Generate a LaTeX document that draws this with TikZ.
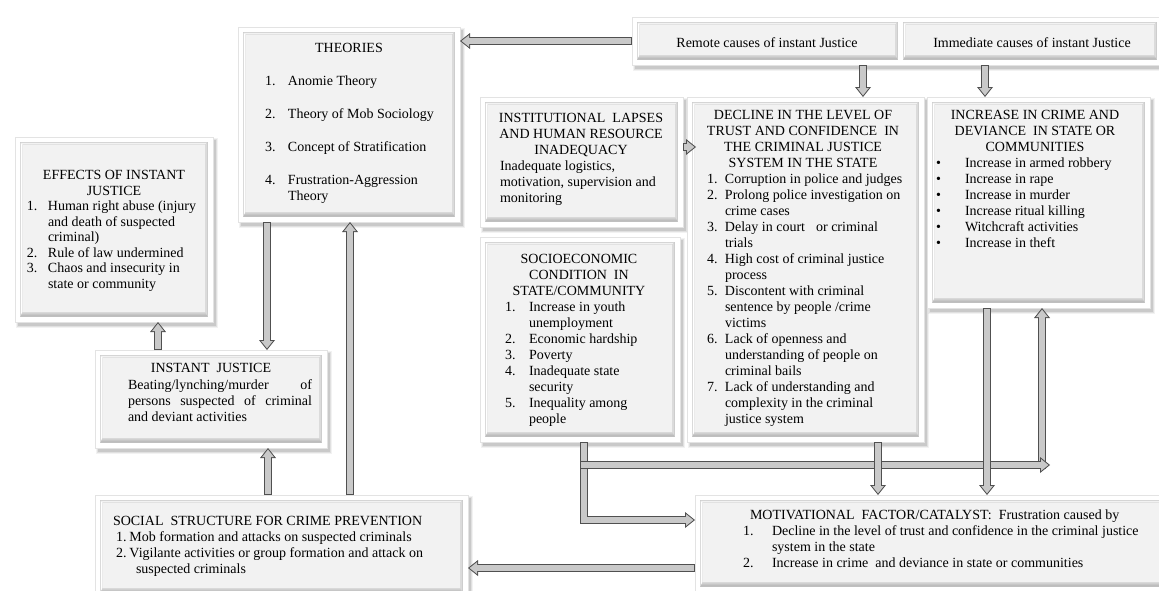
\documentclass[tikz,border=0pt]{standalone}
\usepackage{fontspec}
\setmainfont{Liberation Serif}
\usetikzlibrary{arrows.meta,calc}
\definecolor{arrD}{HTML}{505050}
\definecolor{arrL}{HTML}{C9C9C9}
\definecolor{panelc}{HTML}{F2F2F2}

\newcommand\mkframe[4]{%
  \fill[black,opacity=0.05] (#1+1,#2+1) rectangle (#3+5,#4+6);
  \fill[black,opacity=0.07] (#1+2,#2+2) rectangle (#3+4,#4+5);
  \fill[black,opacity=0.10] (#1+3,#2+3) rectangle (#3+2.5,#4+3.5);
  \fill[white] (#1,#2) rectangle (#3,#4);
  \draw[gray!22,line width=0.4pt] (#1,#2) rectangle (#3,#4);
}
\newcommand\mkpanel[4]{%
  \fill[gray!45] (#1,#2) rectangle (#3,#4);
  \fill[gray!10] (#1+0.6,#2+0.6) -- (#3-0.6,#2+0.6) -- (#3-3,#2+2.5) -- (#1+2.5,#2+2.5) -- cycle;
  \fill[white] (#1+0.6,#2+0.6) -- (#1+2.5,#2+2.5) -- (#1+2.5,#4-5) -- (#1+0.6,#4-0.6) -- cycle;
  \fill[gray!28] (#3-0.6,#2+0.6) -- (#3-0.6,#4-0.6) -- (#3-3,#4-5) -- (#3-3,#2+2.5) -- cycle;
  \shade[top color=gray!30,bottom color=gray!62] (#1+0.6,#4-0.6) -- (#3-0.6,#4-0.6) -- (#3-3,#4-5) -- (#1+2.5,#4-5) -- cycle;
  \fill[panelc] (#1+2.5,#2+2.5) rectangle (#3-3,#4-5);
}
\newcommand\bx[5]{%
  \mkframe{#2}{#3}{#4}{#5}%
  \mkpanel{#2+5}{#3+5}{#4-5}{#5-5}%
  \node[boxn, minimum width={(#4)-(#2)}, minimum height={(#5)-(#3)}] (#1) at ({((#2)+(#4))/2},{((#3)+(#5))/2}) {};
}
\newcommand\barrow[1]{\draw[arO] #1; \draw[arI] #1;}
\newcommand\numlab[2]{\makebox[#1][l]{#2}}

\tikzset{
  boxn/.style={rectangle, inner sep=0pt, outer sep=0pt, draw=none},
  tt/.style={font=\fontsize{14}{16}\selectfont, inner sep=0pt, outer sep=0pt, text=black},
  ttc/.style={tt, anchor=north, align=center},
  ttl/.style={tt, anchor=north west, align=left},
  arO/.style={line width=8pt, draw=arrD, line join=miter, -{Triangle[width=16pt,length=10pt,line width=0pt]}},
  arI/.style={line width=6pt, draw=arrL, line join=miter, shorten >=1.6pt, shorten <=1pt, -{Triangle[width=11.8pt,length=7.4pt,line width=0pt]}},
}

\begin{document}
\begin{tikzpicture}[x=1pt,y=-1pt]
\useasboundingbox (0,0) rectangle (1159,590);
\fill[white] (0,0) rectangle (1159,590);
\clip (0,0) rectangle (1159,590);

% ---------- boxes ----------
\bx{theo}{238}{27}{460}{222}
\bx{eff}{15}{137}{213}{322}
\bx{inst}{480}{97}{683}{227}
\bx{socio}{480}{237}{680}{442}
\bx{decl}{687}{97}{924}{442}
\bx{incr}{927}{97}{1150}{308}
\bx{ij}{95}{350}{327}{448}
\bx{soc}{95}{495}{468}{598}
\bx{motiv}{695}{495}{1172}{592}
% remote / immediate pair
\mkframe{632}{17}{1172}{65}
\mkpanel{637}{22}{898}{60}
\mkpanel{903}{22}{1157}{60}
\node[boxn, minimum width=268, minimum height=48] (remote) at (766,41) {};
\node[boxn, minimum width=272, minimum height=48] (immed) at (1036,41) {};

% ---------- helper coordinates ----------
\coordinate (x158) at (158,0);
\coordinate (x267) at (267,0);
\coordinate (x268) at (268,0);
\coordinate (x350) at (350,0);
\coordinate (x584) at (584,0);
\coordinate (x863) at (863,0);
\coordinate (x878) at (878,0);
\coordinate (x985) at (985,0);
\coordinate (x987) at (987,0);
\coordinate (y520) at (0,520);
\coordinate (y568) at (0,568);
\coordinate (idtip) at (696,147);
\coordinate (br) at (580,465);
\coordinate (brtip) at (1050,465);
\coordinate (b1042) at (1042,469);

% ---------- arrows ----------
\barrow{(remote.west) -- (remote.west -| theo.east)}
\barrow{(remote.south -| x863) -- (decl.north -| x863)}
\barrow{(immed.south -| x985) -- (incr.north -| x985)}
\barrow{(inst.east |- idtip) -- (idtip)}
\barrow{(theo.south -| x267) -- (ij.north -| x267)}
\barrow{(ij.north -| x158) -- (eff.south -| x158)}
\barrow{(soc.north -| x268) -- (ij.south -| x268)}
\barrow{(soc.north -| x350) -- (theo.south -| x350)}
\barrow{(socio.south -| x584) |- (motiv.west |- y520)}
\barrow{(b1042) -- (incr.south -| b1042)}
\barrow{(br) -- (brtip)}
\barrow{(decl.south -| x878) -- (motiv.north -| x878)}
\barrow{(incr.south -| x987) -- (motiv.north -| x987)}
\barrow{(motiv.west |- y568) -- (soc.east |- y568)}

% ---------- texts ----------
\node[ttc] (remoteT) at (767,35.8) {\strut Remote causes of instant Justice};
\node[ttc] (immedT) at (1032,35.8) {\strut Immediate causes of instant Justice};

\node[ttc] (theoT) at (349,40.8) {\strut THEORIES};
\node[ttl] (theoB) at (265,73.8) {\strut\numlab{23pt}{1.}Anomie Theory\\[17pt]
  \numlab{23pt}{2.}Theory of Mob Sociology\\[17pt]
  \numlab{23pt}{3.}Concept of Stratification\\[17pt]
  \numlab{23pt}{4.}Frustration-Aggression\\
  \hspace*{23pt}Theory};

\node[ttc, font=\fontsize{14}{15.5}\selectfont] (effT) at (114,168.8) {\strut EFFECTS OF INSTANT\\JUSTICE};
\node[ttl, font=\fontsize{14}{15.5}\selectfont] (effB) at (27,199.8) {\strut\numlab{21pt}{1.}Human right abuse (injury\\
  \hspace*{21pt}and death of suspected\\
  \hspace*{21pt}criminal)\\
  \numlab{21pt}{2.}Rule of law undermined\\
  \numlab{21pt}{3.}Chaos and insecurity in\\
  \hspace*{21pt}state or community};

\node[ttc] (instT) at (581,110.8) {\strut INSTITUTIONAL\ \ LAPSES\\AND HUMAN RESOURCE\\INADEQUACY};
\node[ttl] (instB) at (500,158.8) {\strut Inadequate logistics,\\motivation, supervision and\\monitoring};

\node[ttc] (socioT) at (579,251.8) {\strut SOCIOECONOMIC\\CONDITION\ \ IN\\STATE/COMMUNITY};
\node[ttl] (socioB) at (505,299.8) {\strut\numlab{24pt}{1.}Increase in youth\\
  \hspace*{24pt}unemployment\\
  \numlab{24pt}{2.}Economic hardship\\
  \numlab{24pt}{3.}Poverty\\
  \numlab{24pt}{4.}Inadequate state\\
  \hspace*{24pt}security\\
  \numlab{24pt}{5.}Inequality among\\
  \hspace*{24pt}people};

\node[ttc] (declT) at (803,107.8) {\strut DECLINE IN THE LEVEL OF\\TRUST AND CONFIDENCE\ \ IN\\THE CRIMINAL JUSTICE\\SYSTEM IN THE STATE};
\node[ttl] (declB) at (707,171.8) {\strut\numlab{18pt}{1.}Corruption in police and judges\\
  \numlab{18pt}{2.}Prolong police investigation on\\
  \hspace*{18pt}crime cases\\
  \numlab{18pt}{3.}Delay in court\hspace{11pt}or criminal\\
  \hspace*{18pt}trials\\
  \numlab{18pt}{4.}High cost of criminal justice\\
  \hspace*{18pt}process\\
  \numlab{18pt}{5.}Discontent with criminal\\
  \hspace*{18pt}sentence by people /crime\\
  \hspace*{18pt}victims\\
  \numlab{18pt}{6.}Lack of openness and\\
  \hspace*{18pt}understanding of people on\\
  \hspace*{18pt}criminal bails\\
  \numlab{18pt}{7.}Lack of understanding and\\
  \hspace*{18pt}complexity in the criminal\\
  \hspace*{18pt}justice system};

\node[ttc] (incrT) at (1035,107.8) {\strut INCREASE IN CRIME AND\\DEVIANCE\ \ IN STATE OR\\COMMUNITIES};
\node[ttl] (incrB) at (936,155.8) {\strut\numlab{29pt}{\textbullet}Increase in armed robbery\\
  \numlab{29pt}{\textbullet}Increase in rape\\
  \numlab{29pt}{\textbullet}Increase in murder\\
  \numlab{29pt}{\textbullet}Increase ritual killing\\
  \numlab{29pt}{\textbullet}Witchcraft activities\\
  \numlab{29pt}{\textbullet}Increase in theft};

\node[ttc] (ijT) at (211,360.8) {\strut INSTANT\ \ JUSTICE};
\node[ttl] (ijB) at (128,377.8) {\strut\makebox[184pt][s]{Beating/lynching/murder of}\\
  \makebox[184pt][s]{persons suspected of criminal}\\
  and deviant activities};

\node[ttl] (socT) at (113,513.8) {\strut SOCIAL\ \ STRUCTURE FOR CRIME PREVENTION};
\node[ttl] (socB) at (116,529.8) {\strut\numlab{13.5pt}{1.}Mob formation and attacks on suspected criminals\\
  \numlab{13.5pt}{2.}Vigilante activities or group formation and attack on\\
  \hspace*{20pt}suspected criminals};

\node[ttl] (motivT) at (750,507.8) {\strut MOTIVATIONAL\ \ FACTOR/CATALYST:\ \ Frustration caused by};
\node[ttl] (motivB) at (743,523.8) {\strut\numlab{29pt}{1.}Decline in the level of trust and confidence in the criminal justice\\
  \hspace*{29pt}system in the state\\
  \numlab{29pt}{2.}Increase in crime\ \ and deviance in state or communities};
\end{tikzpicture}
\end{document}
